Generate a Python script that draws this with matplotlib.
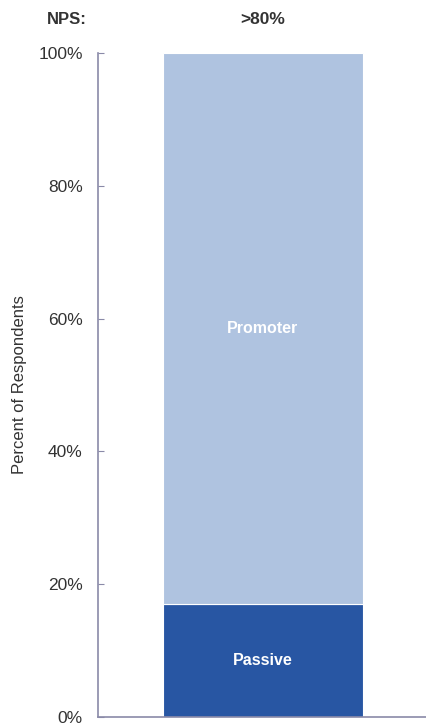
import matplotlib.pyplot as plt

plt.rcParams['font.family'] = ['Liberation Sans', 'DejaVu Sans']

# data
categories = [""]
passive = [17]
promoter = [83]
nps_label = ">80%"
yticks = [0, 20, 40, 60, 80, 100]

fig = plt.figure(figsize=(4.26, 7.25), dpi=100)
ax = fig.add_axes([0.23, 0.011, 0.77, 0.916])

bars1 = ax.bar(categories, passive, width=0.6, color="#2856A3",
               edgecolor="white", linewidth=0.8)
bars2 = ax.bar(categories, promoter, width=0.6, bottom=passive,
               color="#AFC3E0", edgecolor="white", linewidth=0.8)

for b, lab in [(bars1[0], "Passive"), (bars2[0], "Promoter")]:
    ax.text(b.get_x() + b.get_width() / 2, b.get_y() + b.get_height() / 2,
            lab, ha="center", va="center", color="white",
            fontsize=11.5, fontweight="bold")

ax.set_xlim(-0.495, 0.49)
ax.set_ylim(0, 100)
ax.set_yticks(yticks)
ax.set_yticklabels([f"{v}%" for v in yticks])
ax.tick_params(axis="y", direction="in", length=4, color="#8a8aa8",
               labelsize=12.5, labelcolor="#333333", pad=11)
ax.tick_params(axis="x", length=0, labelbottom=False)
for s in ["top", "right"]:
    ax.spines[s].set_visible(False)
for s in ["left", "bottom"]:
    ax.spines[s].set_color("#8a8aa8")
    ax.spines[s].set_linewidth(1.2)

ax.set_ylabel("Percent of Respondents", fontsize=12, color="#333333")
ax.yaxis.set_label_coords(-0.215, 0.5)

fig.text(67 / 426, 1 - 19 / 725, "NPS:", ha="center", va="center",
         fontsize=12, fontweight="bold", color="#333333")
fig.text(263 / 426, 1 - 19 / 725, nps_label, ha="center", va="center",
         fontsize=12.5, fontweight="bold", color="#333333")

fig.savefig("out.png", dpi=100)
